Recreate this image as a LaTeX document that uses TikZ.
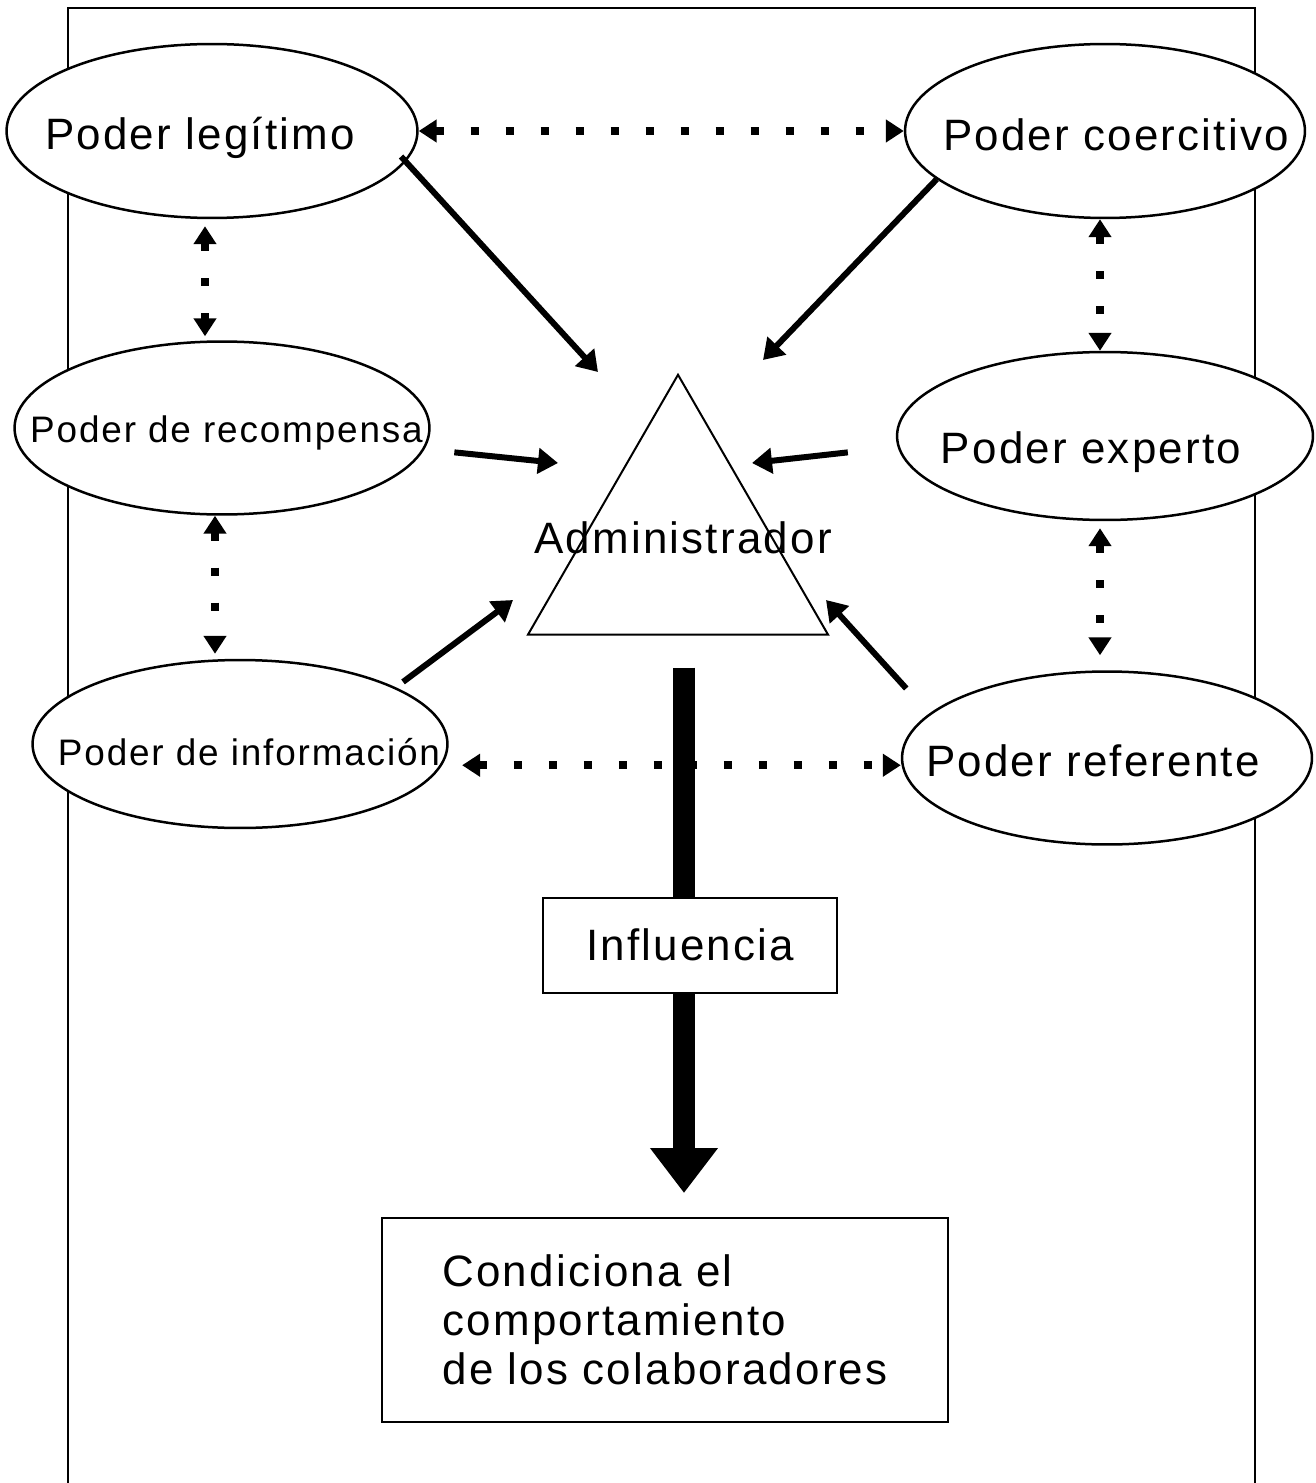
\documentclass[tikz,border=0pt]{standalone}
\usepackage{fontspec}
\setmainfont{Liberation Sans}[LetterSpace=5]
\usetikzlibrary{shapes.geometric,arrows.meta}

% text set inside an ellipse without widening it: #1 shifts right by half, #2 raises
\newcommand{\inbox}[3]{\raisebox{#2}[0pt][0pt]{\makebox[0pt]{\hspace{#1}#3}}}

\begin{document}
\begin{tikzpicture}[x=0.02cm, y=-0.02cm,
    pwr/.style={ellipse, draw, fill=white, line width=0.05cm, inner sep=0pt},
    bigtxt/.style={font=\fontsize{25}{28}\selectfont},
    smalltxt/.style={font=\fontsize{21}{25}\selectfont},
    box/.style={rectangle, draw, fill=white, line width=0.04cm},
    dotarr/.style={{Triangle[length=0.36cm,width=0.44cm]}-{Triangle[length=0.36cm,width=0.44cm]},
      line width=0.16cm, dash pattern=on 0.16cm off 0.54cm},
    arr/.style={-{Triangle[length=0.4cm,width=0.5cm]}, line width=0.12cm}
  ]
  \useasboundingbox (0,0) rectangle (1315,1483);
  % frame
  \draw[line width=0.04cm] (68,1490) -- (68,8) -- (1255,8) -- (1255,1490);

  % the six kinds of power
  \node[pwr, bigtxt, minimum width=8.22cm, minimum height=3.48cm] (legit) at (212,131) {\inbox{-0.48cm}{-0.38cm}{Poder legítimo}};
  \node[pwr, bigtxt, minimum width=8.0cm, minimum height=3.48cm] (coerc) at (1105,131) {\inbox{0.44cm}{-0.4cm}{Poder coercitivo}};
  \node[pwr, smalltxt, minimum width=8.3cm, minimum height=3.46cm] (recomp) at (222,428) {\inbox{0.18cm}{-0.3cm}{Poder de recompensa}};
  \node[pwr, bigtxt, minimum width=8.32cm, minimum height=3.36cm] (expert) at (1105,436) {\inbox{-0.56cm}{-0.56cm}{Poder experto}};
  \node[pwr, smalltxt, minimum width=8.3cm, minimum height=3.36cm] (info) at (240,744) {\inbox{0.36cm}{-0.42cm}{Poder de información}};
  \node[pwr, bigtxt, minimum width=8.2cm, minimum height=3.46cm] (refer) at (1107,758) {\inbox{-0.56cm}{-0.36cm}{Poder referente}};

  % manager
  \node[regular polygon, regular polygon sides=3, draw, line width=0.04cm,
    minimum size=6.93cm, inner sep=0pt] (admin) at (678,548) {};
  \node[bigtxt] (admintxt) at (683,538) {Administrador};

  % links between powers
  \draw[dotarr] (legit.east) -- (coerc.west);
  \draw[dotarr, shorten <=0.14cm, shorten >=0.08cm] ([xshift=-0.14cm]legit.south) -- ([xshift=-0.14cm]legit.south |- recomp.north);
  \draw[dotarr, shorten >=0.1cm] ([xshift=-0.14cm]recomp.south) -- ([xshift=-0.14cm]recomp.south |- info.north);
  \draw[dotarr] ([xshift=-0.1cm]coerc.south) -- ([xshift=-0.1cm]coerc.south |- expert.north);
  \draw[dotarr, shorten <=0.14cm, shorten >=0.3cm] ([xshift=-0.1cm]expert.south) -- ([xshift=-0.1cm]expert.south |- refer.north);
  \draw[dotarr, shorten <=0.4cm] (info.-6) -- (info.-6 -| refer.west);

  % influence
  \coordinate (inftip) at (684,1193);
  \draw[line width=0.44cm, -{Triangle[length=0.9cm,width=1.3cm]}, shorten <=0.64cm]
    (admin.south -| inftip) -- (inftip);
  \node[box, bigtxt, minimum width=5.9cm, minimum height=1.9cm] (infl) at (690,945) {Influencia};
  \node[box, bigtxt, align=left, minimum width=11.32cm, minimum height=4.08cm] (cond) at (665,1320)
    {Condiciona el\\comportamiento\\de los colaboradores};

  % powers acting on the manager
  \coordinate (t1) at (598,372);
  \coordinate (t2) at (763,360);
  \coordinate (t3) at (558,463);
  \coordinate (t4) at (752,463);
  \coordinate (t5) at (513,600);
  \coordinate (t6) at (826,600);
  \draw[arr, shorten <=-0.14cm] (legit.-9) -- (t1);
  \draw[arr] (coerc.196) -- (t2);
  \draw[arr, shorten <=0.6cm] (recomp.-6) -- (t3);
  \draw[arr, shorten <=1cm] (expert.183) -- (t4);
  \draw[arr, shorten <=0.18cm] (info.20) -- (t5);
  \draw[arr, shorten <=0.68cm] (refer.166) -- (t6);
\end{tikzpicture}
\end{document}
